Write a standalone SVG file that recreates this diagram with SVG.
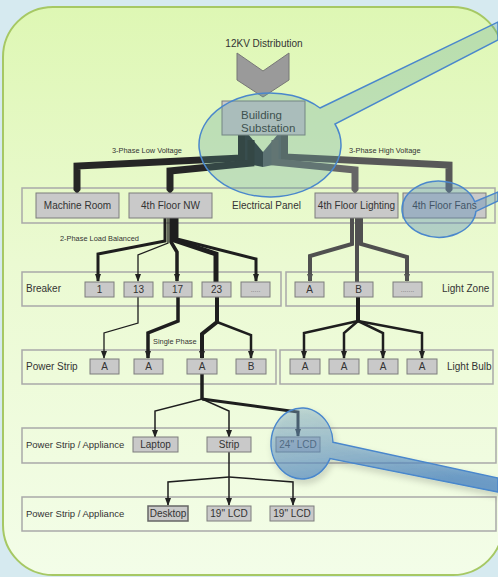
<svg xmlns="http://www.w3.org/2000/svg" width="498" height="577" viewBox="0 0 498 577">
  <defs>
    <linearGradient id="panelFill" x1="0" y1="0" x2="0" y2="1">
      <stop offset="0" stop-color="#def7b4"/>
      <stop offset="0.45" stop-color="#ebfad2"/>
      <stop offset="1" stop-color="#f3fde8"/>
    </linearGradient>
    <linearGradient id="lensBlue" x1="0" y1="0" x2="0.3" y2="1">
      <stop offset="0" stop-color="#86aec9" stop-opacity="0.4"/>
      <stop offset="1" stop-color="#3f7cc0" stop-opacity="0.7"/>
    </linearGradient>
    <filter id="softShadow" x="-10%" y="-10%" width="130%" height="140%">
      <feDropShadow dx="2" dy="4" stdDeviation="3" flood-color="#000" flood-opacity="0.22"/>
    </filter>
    <marker id="tip" markerUnits="userSpaceOnUse" markerWidth="8" markerHeight="6" refX="7" refY="3" orient="auto">
      <path d="M0,0 L8,3 L0,6 z" fill="#222"/>
    </marker>
    <marker id="tipGray" markerUnits="userSpaceOnUse" markerWidth="8" markerHeight="6" refX="7" refY="3" orient="auto">
      <path d="M0,0 L8,3 L0,6 z" fill="#555"/>
    </marker>
    <style>
      .lbl { font-family: "Liberation Sans", Arial, sans-serif; fill: #333; font-size: 10px; }
      .small { font-family: "Liberation Sans", Arial, sans-serif; fill: #333; font-size: 7.4px; }
      .mid { text-anchor: middle; }
      .row { fill: none; stroke: #a9a9a9; stroke-width: 1.5; }
      .box { fill: #c9c9c9; stroke: #7c7c7c; stroke-width: 1; }
      .wire { fill: none; stroke: #1e1e1e; stroke-linejoin: miter; }
      .gwire { fill: none; stroke: #505050; stroke-linejoin: miter; }
      .bus { fill: none; stroke-width: 7; stroke-linejoin: miter; }
      .lens { stroke: #4a87cc; stroke-width: 1.5; }
    </style>
  </defs>

  <!-- backdrop and rounded panel -->
  <rect x="0" y="0" width="498" height="577" fill="#d6eaf0"/>
  <rect x="3" y="7" width="500" height="568" rx="50" ry="50" fill="url(#panelFill)" stroke="#a6c864" stroke-width="2"/>

  <!-- row frames -->
  <g id="rows">
    <rect class="row" x="22" y="188" width="473" height="35"/>
    <rect class="row" x="22" y="272" width="259" height="34"/>
    <rect class="row" x="286" y="272" width="207" height="34"/>
    <rect class="row" x="22" y="350" width="254" height="34"/>
    <rect class="row" x="280" y="350" width="213" height="34"/>
    <rect class="row" x="22" y="428" width="474" height="35"/>
    <rect class="row" x="22" y="497" width="474" height="34"/>
  </g>

  <!-- connectors -->
  <g id="connectors">
    <!-- feed chevron -->
    <polygon points="237,53 263,71 289,53 289,80 263,97 237,80" fill="#9a9a9a" stroke="#777" stroke-width="1"/>
    <!-- substation split -->
    <polygon points="238,134 248,134 263,152 263,167 238,162" fill="#2b2f33"/>
    <polygon points="278,134 288,134 288,162 263,167 263,152" fill="#5d6266"/>
    <!-- low voltage bus -->
    <path class="bus" stroke="#262626" d="M241.5 134 V158 L77 166 V187"/>
    <polygon points="73.5,187 80.5,187 80.5,190 77,194 73.5,190" fill="#262626"/>
    <path class="bus" stroke="#262626" d="M251 140 V163 L170 171 V187"/>
    <polygon points="166.5,187 173.5,187 173.5,190 170,194 166.5,190" fill="#262626"/>
    <!-- high voltage bus -->
    <path class="bus" stroke="#585858" d="M284.5 134 V157 L449 165 V187"/>
    <polygon points="445.5,187 452.5,187 452.5,190 449,194 445.5,190" fill="#585858"/>
    <path class="bus" stroke="#666" d="M275 140 V162 L355 170 V187"/>
    <polygon points="351.5,187 358.5,187 358.5,190 355,194 351.5,190" fill="#666"/>

    <!-- 4th Floor NW to breakers -->
    <path class="wire" stroke-width="3" d="M165 218 V241 L98 254 V281" marker-end="url(#tip)"/>
    <path class="wire" stroke-width="1.3" d="M168 218 V243 L138 255 V281" marker-end="url(#tip)"/>
    <path class="wire" stroke-width="3.5" d="M171 218 V242 L177 252 V281" marker-end="url(#tip)"/>
    <path class="wire" stroke-width="5" d="M174 218 V240 L216 254 V282"/>
    <path class="wire" stroke-width="3" d="M177 218 V239 L256 259 V281" marker-end="url(#tip)"/>

    <!-- 4th Floor Lighting to light zones -->
    <path class="gwire" stroke-width="4" d="M352 218 V244 L310 256 V281" marker-end="url(#tipGray)"/>
    <path class="gwire" stroke-width="4" d="M357 218 V282"/>
    <path class="gwire" stroke-width="4" d="M361 218 V244 L407 257 V281" marker-end="url(#tipGray)"/>

    <!-- breakers to power strips -->
    <path class="wire" stroke-width="1.3" d="M138 297 V323 L104 333 V358" marker-end="url(#tip)"/>
    <path class="wire" stroke-width="3.5" d="M178 297 V321 L148 333 V358" marker-end="url(#tip)"/>
    <path class="wire" stroke-width="4" d="M217 297 V322 L202 334 V358" marker-end="url(#tip)"/>
    <path class="wire" stroke-width="2.5" d="M217 322 L251 335 V358" marker-end="url(#tip)"/>

    <!-- light zone B to bulbs -->
    <path class="wire" stroke="#333" stroke-width="4" d="M358 297 V321"/>
    <path class="wire" stroke="#333" stroke-width="2.5" d="M358 321 L304 333 V358" marker-end="url(#tip)"/>
    <path class="wire" stroke="#333" stroke-width="2.5" d="M358 321 L344 333 V358" marker-end="url(#tip)"/>
    <path class="wire" stroke="#333" stroke-width="2.5" d="M358 321 L383 333 V358" marker-end="url(#tip)"/>
    <path class="wire" stroke="#333" stroke-width="2.5" d="M358 321 L422 333 V358" marker-end="url(#tip)"/>

    <!-- power strip A to appliances -->
    <path class="wire" stroke-width="3.5" d="M202 374 V399"/>
    <path class="wire" stroke-width="1.5" d="M202 399 L155 411 V437" marker-end="url(#tip)"/>
    <path class="wire" stroke-width="1.5" d="M202 399 L229 411 V437" marker-end="url(#tip)"/>
    <path class="wire" stroke-width="3" d="M202 399 L298 412 V436" marker-end="url(#tip)"/>

    <!-- strip to second appliance row -->
    <path class="wire" stroke-width="1.5" d="M229 452 V505" marker-end="url(#tip)"/>
    <path class="wire" stroke-width="1.5" d="M229 477 L168 482 V505" marker-end="url(#tip)"/>
    <path class="wire" stroke-width="1.5" d="M229 477 L293 482 V505" marker-end="url(#tip)"/>
  </g>

  <text class="lbl mid" x="264" y="47">12KV Distribution</text>
  <text class="small" x="112" y="153">3-Phase Low Voltage</text>
  <text class="small" x="349" y="153">3-Phase High Voltage</text>
  <text class="small" x="60" y="241">2-Phase Load Balanced</text>
  <text class="small" x="153" y="344">Single Phase</text>

  <text class="lbl" x="232" y="209">Electrical Panel</text>
  <text class="lbl" x="26" y="292">Breaker</text>
  <text class="lbl" x="442" y="292">Light Zone</text>
  <text class="lbl" x="26" y="370">Power Strip</text>
  <text class="lbl" x="447" y="370">Light Bulb</text>
  <text class="lbl" x="26" y="448" style="font-size:9.5px">Power Strip / Appliance</text>
  <text class="lbl" x="26" y="517" style="font-size:9.5px">Power Strip / Appliance</text>

  <!-- nodes -->
  <g id="substation">
    <rect class="box" x="222" y="101" width="83" height="34"/>
    <text class="lbl" x="241" y="119" style="font-size:11.5px">Building</text>
    <text class="lbl" x="241" y="132" style="font-size:11.5px">Substation</text>
  </g>
  <g id="machine-room"><rect class="box" x="36" y="193" width="83" height="25"/><text class="lbl mid" x="77.5" y="209">Machine Room</text></g>
  <g id="floor4-nw"><rect class="box" x="129" y="193" width="83" height="25"/><text class="lbl mid" x="170.5" y="209">4th Floor NW</text></g>
  <g id="floor4-lighting"><rect class="box" x="315" y="193" width="83" height="25"/><text class="lbl mid" x="356.5" y="209">4th Floor Lighting</text></g>
  <g id="floor4-fans"><rect class="box" x="403" y="193" width="83" height="25"/><text class="lbl mid" x="444.5" y="209">4th Floor Fans</text></g>

  <g id="breaker-1"><rect class="box" x="85" y="282" width="29" height="15"/><text class="lbl mid" x="99.5" y="293">1</text></g>
  <g id="breaker-13"><rect class="box" x="124" y="282" width="29" height="15"/><text class="lbl mid" x="138.5" y="293">13</text></g>
  <g id="breaker-17"><rect class="box" x="163" y="282" width="29" height="15"/><text class="lbl mid" x="177.5" y="293">17</text></g>
  <g id="breaker-23"><rect class="box" x="202" y="282" width="29" height="15"/><text class="lbl mid" x="216.5" y="293">23</text></g>
  <g id="breaker-more"><rect class="box" x="241" y="282" width="29" height="15"/><text class="lbl mid" x="255.5" y="292" style="font-size:7px;fill:#777">.....</text></g>

  <g id="zone-a"><rect class="box" x="295" y="282" width="29" height="15"/><text class="lbl mid" x="309.5" y="293">A</text></g>
  <g id="zone-b"><rect class="box" x="344" y="282" width="29" height="15"/><text class="lbl mid" x="358.5" y="293">B</text></g>
  <g id="zone-more"><rect class="box" x="393" y="282" width="29" height="15"/><text class="lbl mid" x="407.5" y="292" style="font-size:7px;fill:#777">.......</text></g>

  <g id="strip-a1"><rect class="box" x="90" y="359" width="29" height="15"/><text class="lbl mid" x="104.5" y="370">A</text></g>
  <g id="strip-a2"><rect class="box" x="134" y="359" width="29" height="15"/><text class="lbl mid" x="148.5" y="370">A</text></g>
  <g id="strip-a3"><rect class="box" x="187" y="359" width="30" height="15"/><text class="lbl mid" x="202" y="370">A</text></g>
  <g id="strip-b"><rect class="box" x="236" y="359" width="30" height="15"/><text class="lbl mid" x="251" y="370">B</text></g>

  <g id="bulb-1"><rect class="box" x="290" y="359" width="30" height="15"/><text class="lbl mid" x="305" y="370">A</text></g>
  <g id="bulb-2"><rect class="box" x="329" y="359" width="30" height="15"/><text class="lbl mid" x="344" y="370">A</text></g>
  <g id="bulb-3"><rect class="box" x="368" y="359" width="30" height="15"/><text class="lbl mid" x="383" y="370">A</text></g>
  <g id="bulb-4"><rect class="box" x="407" y="359" width="30" height="15"/><text class="lbl mid" x="422" y="370">A</text></g>

  <g id="laptop"><rect class="box" x="133" y="437" width="45" height="15"/><text class="lbl mid" x="155.5" y="448">Laptop</text></g>
  <g id="strip"><rect class="box" x="207" y="437" width="44" height="15"/><text class="lbl mid" x="229" y="448">Strip</text></g>
  <g id="lcd-24"><rect class="box" x="276" y="437" width="44" height="15"/><text class="lbl mid" x="298" y="448">24" LCD</text></g>

  <g id="desktop"><rect class="box" x="148" y="506" width="40" height="15" style="stroke:#666;stroke-width:1.5"/><text class="lbl mid" x="168" y="517">Desktop</text></g>
  <g id="lcd-19a"><rect class="box" x="207" y="506" width="44" height="15"/><text class="lbl mid" x="229" y="517">19" LCD</text></g>
  <g id="lcd-19b"><rect class="box" x="270" y="506" width="44" height="15"/><text class="lbl mid" x="292" y="517">19" LCD</text></g>

  <!-- magnifier callouts -->
  <g id="callout-substation">
    <path class="lens" fill="#5a9e98" fill-opacity="0.28" d="M320 108 L498 22 L498 40 L335 124 A71 52 0 1 1 320 108 Z"/>
  </g>
  <g id="callout-fans">
    <path class="lens" fill="#5a8cb8" fill-opacity="0.38" d="M474.7 201.8 L498 192 L498 201 L475.9 211.4 A37 28 0 1 1 474.7 201.8 Z"/>
  </g>
  <g id="callout-lcd" filter="url(#softShadow)">
    <path class="lens" fill="url(#lensBlue)" d="M333 442.3 L498 478 L498 492 L330.1 458.5 A31 35.5 0 1 1 333 442.3 Z"/>
  </g>
</svg>
